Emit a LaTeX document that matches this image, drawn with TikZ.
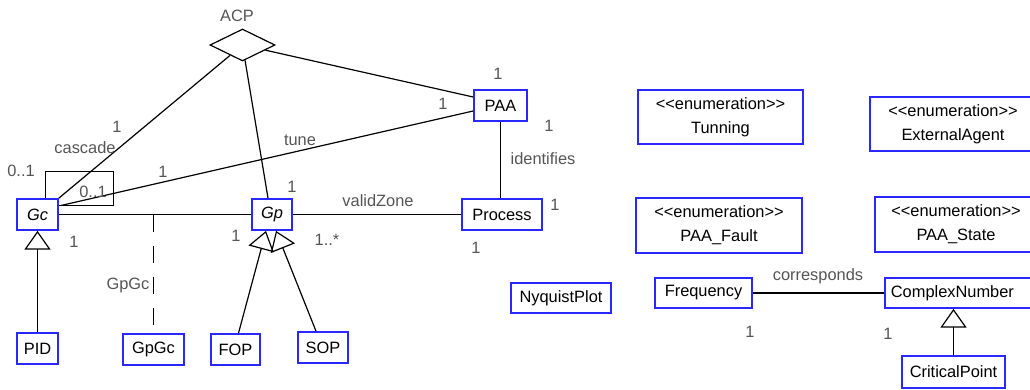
\documentclass[tikz,border=0pt]{standalone}
\usepackage{fontspec}
\setmainfont{Liberation Sans}[Ligatures=TeXOff]
\usepackage{xcolor}
\usepackage{tikz}
\usetikzlibrary{shapes,arrows,positioning,calc,arrows.meta}
\definecolor{umlblue}{RGB}{40,40,255}
\definecolor{rolegray}{RGB}{85,85,85}

\begin{document}
\begin{tikzpicture}[x=0.75pt,y=-0.75pt,
    font=\fontsize{12.3}{14}\selectfont,
    cls/.style={draw=umlblue,line width=1.3pt,fill=white,inner sep=0pt,minimum height=23.25pt},
    enumbox/.style={cls,align=center,minimum height=40.5pt,font=\fontsize{12.3}{18}\selectfont},
    role/.style={text=rolegray,inner sep=0pt},
    link/.style={line width=0.9pt},
    inherit/.style={link,-{Triangle[open,length=14pt,width=19.5pt]}}]
    \useasboundingbox (0,0) rectangle (1030,389);

    % Aggregation ACP
    \node[draw,diamond,line width=0.9pt,fill=white,inner sep=0pt,minimum width=48.75pt,minimum height=24pt] (acp) at (242.5,45) {};
    \node[role] (acpname) at (237,16) {ACP};

    % Controller and plant
    \node[cls,minimum width=30.75pt] (Gc) at (37.5,214.5) {\textit{Gc}};
    \node[cls,minimum width=30pt] (Gp) at (272,214.5) {\textit{Gp}};
    \node[cls,minimum width=39.75pt] (PAA) at (500.5,105.5) {PAA};
    \node[cls,minimum width=60pt] (Process) at (502,214.5) {Process};

    % Subclasses
    \node[cls,minimum width=30.75pt] (PID) at (37.5,348.5) {PID};
    \node[cls,minimum width=45.75pt] (GpGc) at (153.5,349.5) {GpGc};
    \node[cls,minimum width=36.75pt] (FOP) at (235.5,349.5) {FOP};
    \node[cls,minimum width=37.5pt] (SOP) at (323,347.5) {SOP};

    % Frequency response
    \node[cls,minimum width=75pt,minimum height=22.5pt] (NyquistPlot) at (561,298) {NyquistPlot};
    \node[cls,minimum width=72.75pt,minimum height=22.5pt] (Frequency) at (703.5,293) {Frequency};
    \node[cls,anchor=west,inner xsep=4.5pt,text width=103.5pt,align=left,minimum height=22.5pt] (ComplexNumber) at (884,293) {ComplexNumber};
    \node[cls,minimum width=77.25pt,minimum height=24pt] (CriticalPoint) at (953.5,372) {CriticalPoint};

    % Enumerations
    \node[enumbox,minimum width=123.75pt] (Tunning) at (720.5,117) {<<enumeration>>\\Tunning};
    \node[enumbox,minimum width=124.5pt] (ExternalAgent) at (953,124) {<<enumeration>>\\ExternalAgent};
    \node[enumbox,minimum width=124.5pt,minimum height=41.25pt] (PAAFault) at (719,225.5) {<<enumeration>>\\PAA\_Fault};
    \node[enumbox,minimum width=121.5pt,minimum height=41.25pt] (PAAState) at (956,224.5) {<<enumeration>>\\PAA\_State};

    % ACP links
    \draw[link] (acp) -- (Gc.north east);
    \draw[link] (acp) -- ($(Gp.north)+(-4,0)$);
    \draw[link] (acp) -- ($(PAA.west)+(0,-8.5)$);

    % Associations
    \draw[link] ($(Gc.east)+(2,-9)$) -- node[role,pos=0.58,above=3pt] (tunelbl) {tune} ($(PAA.west)+(0,5.5)$);
    \draw[link] (Gc) -- (Gp);
    \draw[link] (Gp) -- (Process);
    \draw[link] (PAA.south) -- (PAA.south |- Process.north);
    \draw[link] (Frequency) -- (ComplexNumber.west |- Frequency.east);
    \coordinate (gpgcjoin) at (GpGc.north |- Gc.east);
    \draw[link,dash pattern=on 12.75pt off 10.5pt] (gpgcjoin) -- (GpGc.north);

    % cascade self link
    \draw[link] ($(Gc.north west)+(29,0)$) -- ++(0,-27) -- ++(68,0) -- ++(0,34) -- ($(Gc.north east)+(0,7)$);

    % Generalizations
    \draw[inherit] (PID) -- (Gc);
    \draw[inherit] ($(FOP.north)+(3,0)$) -- ($(Gp.south)+(-6,0)$);
    \draw[inherit] ($(SOP.north)+(-7,0)$) -- ($(Gp.south)+(4,0)$);
    \draw[inherit] (CriticalPoint.north) -- (CriticalPoint.north |- ComplexNumber.south);

    % Role names and multiplicities
    \node[role] (cascadelbl) at (85,148) {cascade};
    \node[role] (cascadeA) at (21,171) {0..1};
    \node[role] (cascadeB) at (93,192) {0..1};
    \node[role] (acpGc) at (117,127) {1};
    \node[role] (tuneGc) at (163,172) {1};
    \node[role] (acpGp) at (292,187) {1};
    \node[role] (acpPAA) at (498,74) {1};
    \node[role] (tunePAA) at (443,104) {1};
    \node[role] (identPAA) at (549,126) {1};
    \node[role] (identlbl) at (543,159) {identifies};
    \node[role] (validlbl) at (378,201) {validZone};
    \node[role] (identProc) at (555,205) {1};
    \node[role] (validProc) at (476,248) {1};
    \node[role] (validGp) at (327,240) {1..*};
    \node[role] (gpSide) at (236,236) {1};
    \node[role] (gcSide) at (74,242) {1};
    \node[role] (gpgclbl) at (128,285) {GpGc};
    \node[role] (corrlbl) at (818,276) {corresponds};
    \node[role] (corrFreq) at (750,332) {1};
    \node[role] (corrCplx) at (888,334) {1};
\end{tikzpicture}
\end{document}
